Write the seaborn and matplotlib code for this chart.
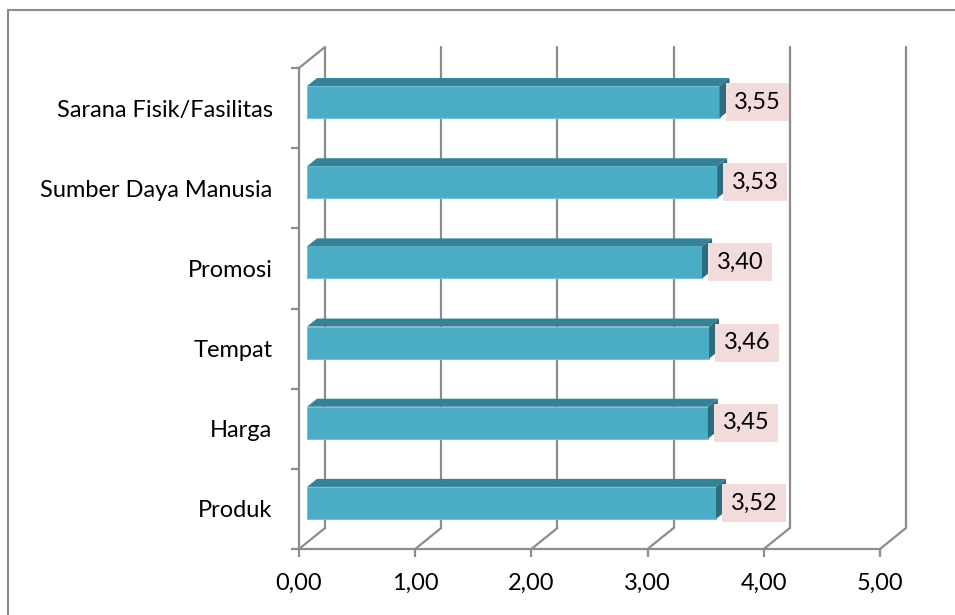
import matplotlib
matplotlib.use("Agg")
import matplotlib.pyplot as plt
import seaborn as sns
import pandas as pd
from matplotlib.lines import Line2D
from matplotlib.patches import Polygon

# ---- data (top to bottom as displayed) ----
categories = ["Sarana Fisik/Fasilitas", "Sumber Daya Manusia", "Promosi",
              "Tempat", "Harga", "Produk"]
values = [3.55, 3.53, 3.40, 3.46, 3.45, 3.52]
value_labels = ["3,55", "3,53", "3,40", "3,46", "3,45", "3,52"]
x_ticks = [0, 1, 2, 3, 4, 5]
x_tick_labels = ["0,00", "1,00", "2,00", "3,00", "4,00", "5,00"]

sns.set_theme(style="white")
plt.rcParams["font.family"] = ["Lato", "DejaVu Sans"]

W, H = 955, 615
fig = plt.figure(figsize=(W / 100, H / 100), dpi=100)
fig.patch.set_facecolor("white")

# axes placement in pixels
x_left, x_right = 299, 880
y_top, y_bot = 68, 549
ax = fig.add_axes([x_left / W, (H - y_bot) / H, (x_right - x_left) / W, (y_bot - y_top) / H])
ax.set_facecolor("none")

df = pd.DataFrame({"cat": categories, "val": values})
sns.barplot(data=df, y="cat", x="val", orient="h", color="#4BACC6",
            saturation=1, width=0.40, ax=ax, zorder=3)

ax.set_xlim(0, 5)
ax.set_ylim(5.5, -0.5)

px_x = (x_right - x_left) / 5.0            # pixels per x unit
px_y = (y_bot - y_top) / 6.0               # pixels per y unit

grey = "#8c8c8c"
lw = 1.6
fs = 17

# back wall depth offset (pixels)
wall_dx, wall_dy = 26, 21
wdx = wall_dx / px_x
wdy = wall_dy / px_y

# floor diagonals + back verticals
for v in x_ticks:
    ax.plot([v, v + wdx], [5.5, 5.5 - wdy], color=grey, lw=lw, clip_on=False, zorder=1)
    ax.plot([v + wdx, v + wdx], [5.5 - wdy, -0.5 - wdy], color=grey, lw=lw,
            clip_on=False, zorder=1)
# left wall top diagonal
ax.plot([0, wdx], [-0.5, -0.5 - wdy], color=grey, lw=lw, clip_on=False, zorder=1)

# bars: shift front face and add 3D top / side faces
bar_sx, bar_sy = 8, 6          # pixel shift of the front face
depth_x, depth_y = 10, 8       # bar depth in pixels
ddx = depth_x / px_x
ddy = depth_y / px_y
sx = bar_sx / px_x
sy = bar_sy / px_y
for p, val, lab in zip(ax.patches, values, value_labels):
    x0 = p.get_x() + sx
    y0 = p.get_y() - sy
    h = p.get_height()
    x1 = x0 + p.get_width()
    p.set_x(x0)
    p.set_y(y0)
    p.set_edgecolor("#6cc6dc")
    p.set_linewidth(0.8)
    top = Polygon([(x0, y0), (x1, y0), (x1 + ddx, y0 - ddy), (x0 + ddx, y0 - ddy)],
                  closed=True, facecolor="#378196", edgecolor="none", zorder=3)
    side = Polygon([(x1, y0), (x1 + ddx, y0 - ddy), (x1 + ddx, y0 + h - ddy), (x1, y0 + h)],
                   closed=True, facecolor="#2d6c7e", edgecolor="none", zorder=3)
    ax.add_patch(top)
    ax.add_patch(side)
    ax.text(x1 + 38 / px_x, y0 + h / 2, lab, ha="center", va="center",
            fontsize=fs, color="black", zorder=5,
            bbox=dict(boxstyle="square,pad=0.36", facecolor="#F2DCDB", edgecolor="none"))

# spines
for s in ["top", "right"]:
    ax.spines[s].set_visible(False)
for s in ["left", "bottom"]:
    ax.spines[s].set_color(grey)
    ax.spines[s].set_linewidth(lw)

ax.set_xticks(x_ticks)
ax.set_xticklabels(x_tick_labels, fontsize=fs, color="black")
ax.tick_params(axis="x", direction="out", length=6, width=lw, color=grey, pad=11, bottom=True)

ax.set_yticks(range(len(categories)))
ax.set_yticklabels(categories, fontsize=fs, color="black")
ax.set_yticks([i - 0.5 for i in range(len(categories) + 1)], minor=True)
ax.tick_params(axis="y", which="major", length=0, pad=19, left=False)
ax.tick_params(axis="y", which="minor", direction="out", length=6, width=lw,
               color=grey, left=True)
ax.set_xlabel("")
ax.set_ylabel("")
ax.grid(False)

# outer chart border (partially visible)
fig.add_artist(Line2D([8 / W, 1.0], [(H - 10) / H, (H - 10) / H], color="#8a8a8a",
                      lw=1.5, transform=fig.transFigure))
fig.add_artist(Line2D([8 / W, 8 / W], [0.0, (H - 10) / H], color="#8a8a8a",
                      lw=1.5, transform=fig.transFigure))

fig.savefig("out.png", dpi=100)
